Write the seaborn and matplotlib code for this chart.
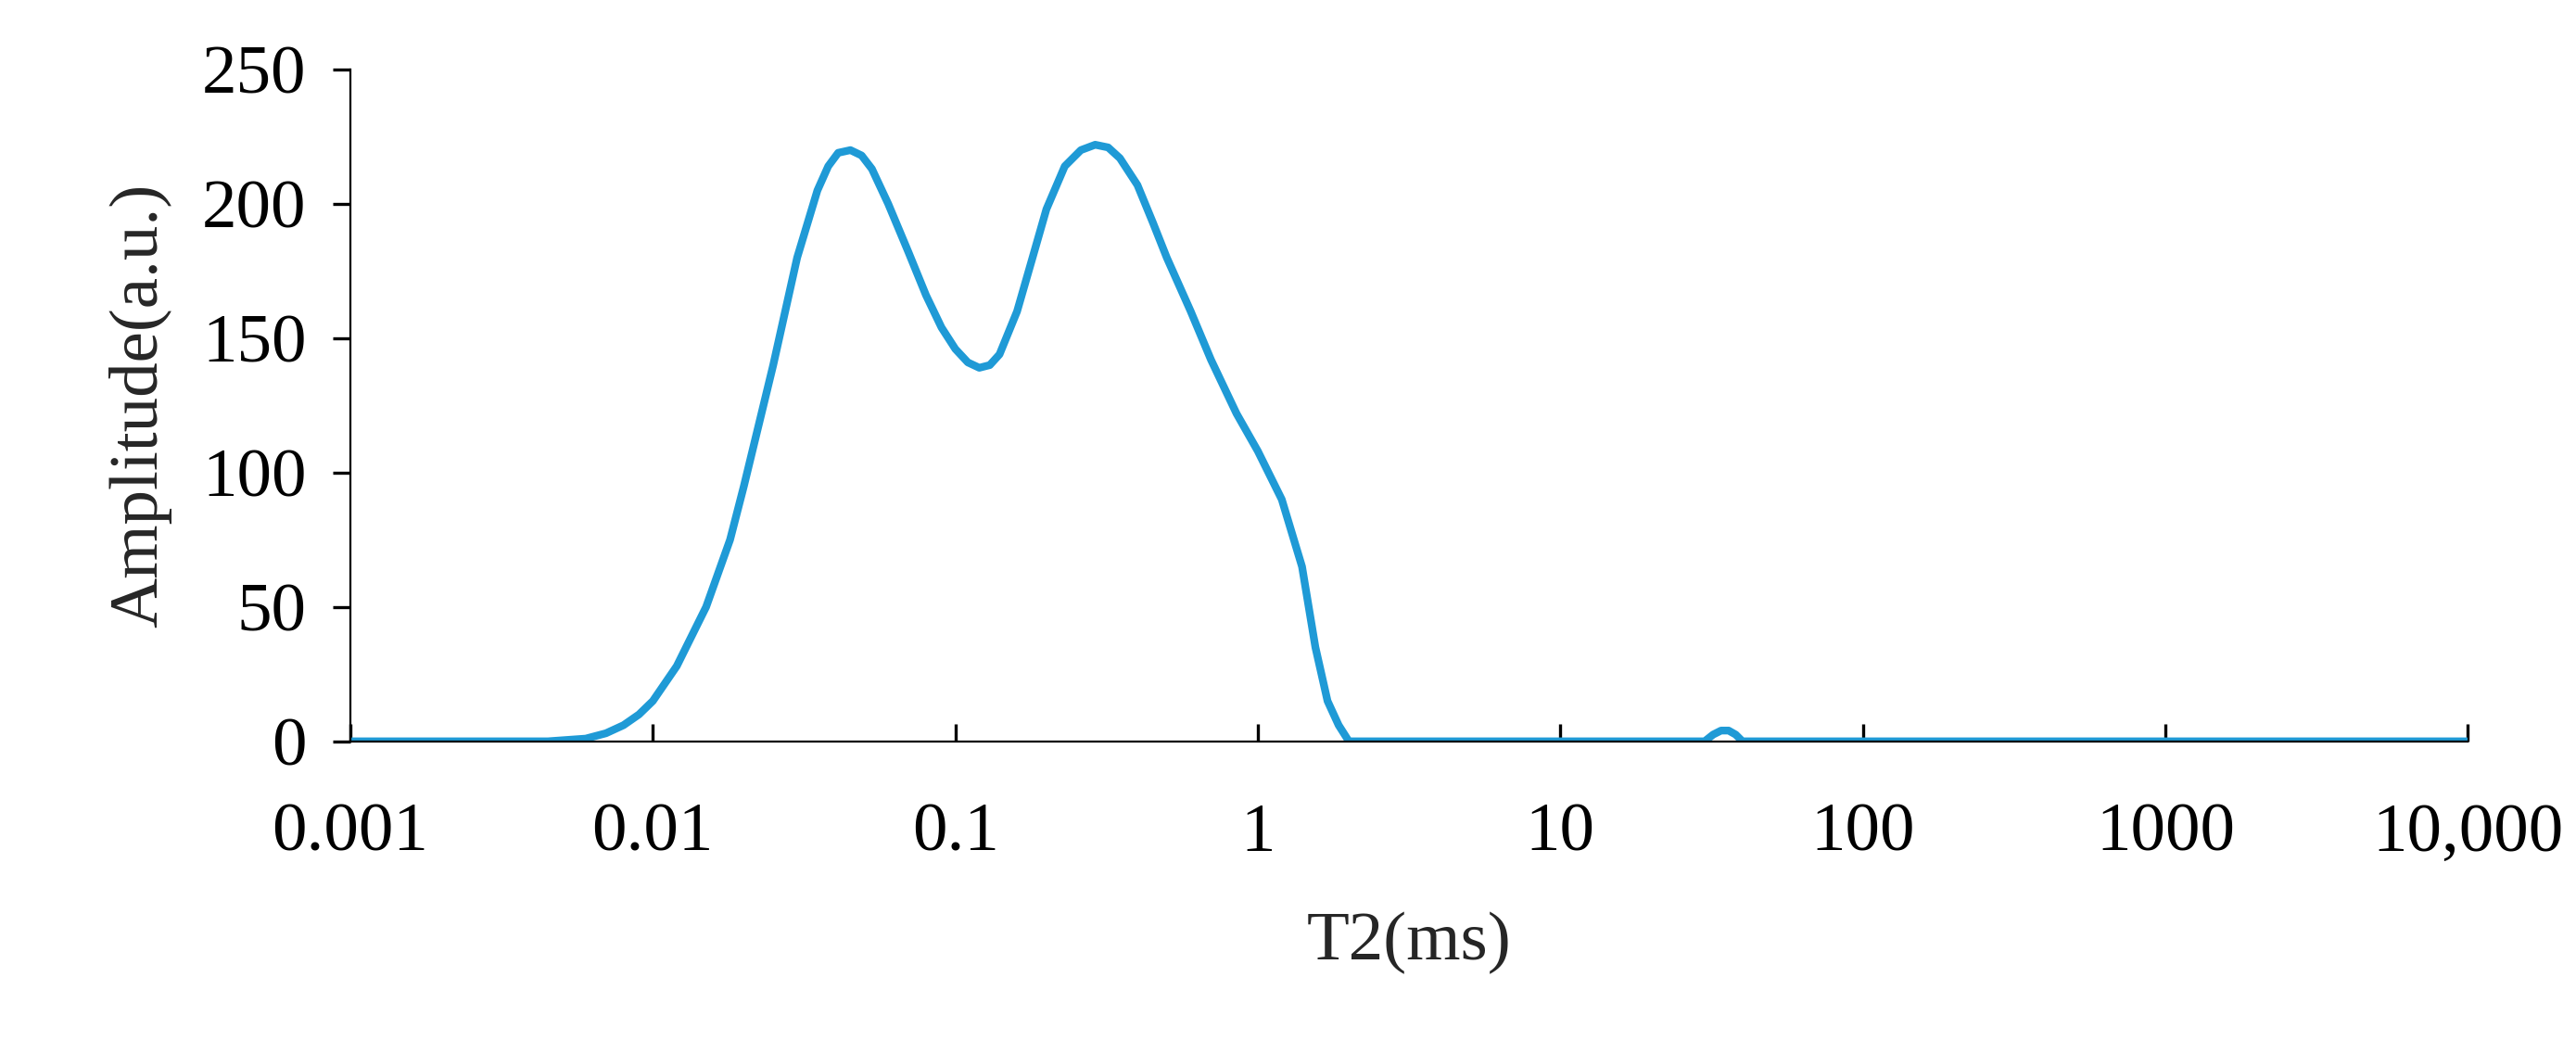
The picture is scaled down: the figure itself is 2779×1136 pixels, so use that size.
import matplotlib.pyplot as plt
import matplotlib.ticker as mticker
import pandas as pd
import seaborn as sns

# T2 relaxation times (ms) and amplitudes
t2_ms = [0.001, 0.003, 0.0045, 0.006, 0.007, 0.008, 0.009, 0.01, 0.012, 0.015,
         0.018, 0.02, 0.025, 0.03, 0.035, 0.038, 0.041, 0.045, 0.049, 0.053,
         0.06, 0.07, 0.08, 0.09, 0.1, 0.11, 0.12, 0.13, 0.14, 0.16,
         0.18, 0.2, 0.23, 0.26, 0.29, 0.32, 0.35, 0.4, 0.45,
         0.5, 0.6, 0.7, 0.85, 1.0, 1.2, 1.4, 1.55, 1.7, 1.85,
         2.0, 10, 30, 32, 34, 36, 38, 40, 100, 1000, 10000]
amplitude = [0, 0, 0, 1, 3, 6, 10, 15, 28, 50,
             75, 95, 140, 180, 205, 214, 219, 220, 218, 213,
             200, 182, 166, 154, 146, 141, 139, 140, 144, 160,
             180, 198, 214, 220, 222, 221, 217, 207, 193,
             180, 160, 142, 122, 108, 90, 65, 35, 15, 6,
             0, 0, 0, 2.5, 4, 4, 2.5, 0, 0, 0, 0]

df = pd.DataFrame({'T2': t2_ms, 'Amplitude': amplitude})

sns.set_style('ticks')
plt.rcParams['font.family'] = ['Liberation Serif', 'DejaVu Serif']
plt.rcParams['axes.edgecolor'] = 'black'
plt.rcParams['xtick.color'] = 'black'
plt.rcParams['ytick.color'] = 'black'

fig = plt.figure(figsize=(13.895, 5.68), dpi=200)
ax = fig.add_axes([0.136, 0.296, 0.822, 0.638])
sns.lineplot(data=df, x='T2', y='Amplitude', color='#1f9ad6', linewidth=3, ax=ax)

ax.set_xscale('log')
ax.set_xlim(0.001, 10000)
ax.set_ylim(0, 250)
ax.set_xticks([0.001, 0.01, 0.1, 1, 10, 100, 1000, 10000])
ax.set_xticklabels(['0.001', '0.01', '0.1', '1', '10', '100', '1000', '10,000'])
ax.xaxis.set_minor_locator(mticker.NullLocator())
ax.set_yticks([0, 50, 100, 150, 200, 250])

ax.tick_params(axis='x', direction='in', length=7, width=1.2, labelsize=27, pad=24)
ax.tick_params(axis='y', direction='out', length=7, width=1.2, labelsize=27, pad=10)
ax.set_xlabel('T2(ms)', fontsize=27, labelpad=18)
ax.set_ylabel('Amplitude(a.u.)', fontsize=27, labelpad=12)
sns.despine(ax=ax)

fig.savefig('out.png', dpi=200)
